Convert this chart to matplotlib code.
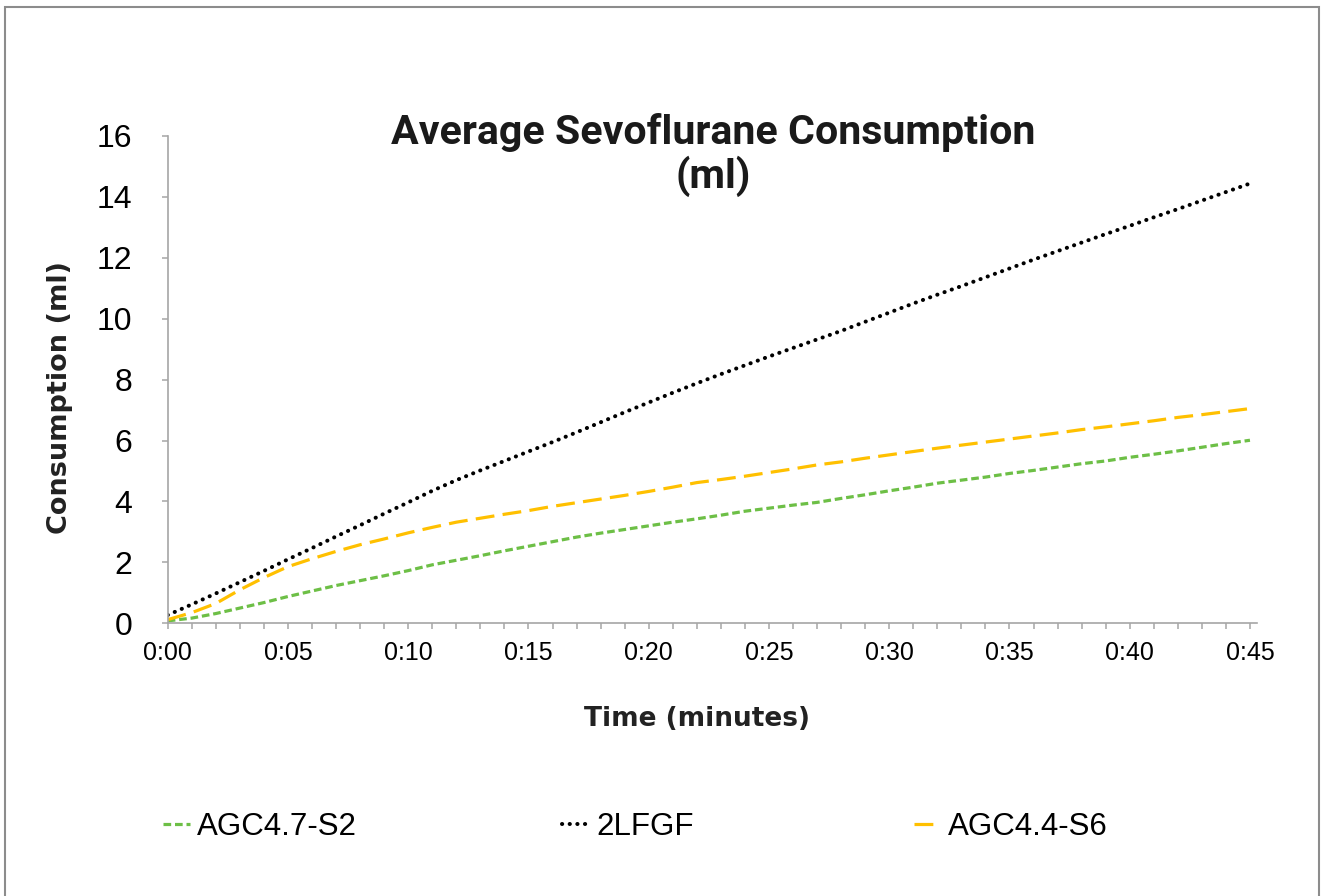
import matplotlib
matplotlib.use("Agg")
import matplotlib.pyplot as plt
from matplotlib import font_manager
from matplotlib.patches import Rectangle
from matplotlib.ticker import MultipleLocator, FixedLocator

# ---------------- data ----------------
minutes = list(range(0, 46))
x_tick_values = [0, 5, 10, 15, 20, 25, 30, 35, 40, 45]
x_tick_labels = ["0:00", "0:05", "0:10", "0:15", "0:20", "0:25", "0:30", "0:35", "0:40", "0:45"]
y_tick_values = [0, 2, 4, 6, 8, 10, 12, 14, 16]

agc47_s2 = [0.08, 0.17, 0.32, 0.50, 0.68, 0.88, 1.06, 1.24, 1.40, 1.56,
            1.73, 1.92, 2.07, 2.22, 2.38, 2.53, 2.68, 2.83, 2.96, 3.08,
            3.20, 3.32, 3.43, 3.55, 3.68, 3.78, 3.88, 3.97, 4.10, 4.22,
            4.35, 4.47, 4.60, 4.70, 4.80, 4.92, 5.02, 5.13, 5.24, 5.33,
            5.45, 5.55, 5.66, 5.78, 5.90, 6.01]
lfgf_2 = [0.27, 0.62, 0.98, 1.35, 1.72, 2.10, 2.47, 2.85, 3.22, 3.60,
          3.97, 4.35, 4.70, 5.02, 5.33, 5.64, 5.95, 6.27, 6.60, 6.93,
          7.25, 7.57, 7.88, 8.18, 8.47, 8.76, 9.04, 9.32, 9.60, 9.90,
          10.20, 10.50, 10.79, 11.07, 11.36, 11.65, 11.94, 12.22, 12.50, 12.78,
          13.05, 13.33, 13.60, 13.88, 14.16, 14.44]
agc44_s6 = [0.12, 0.35, 0.65, 1.10, 1.50, 1.86, 2.12, 2.36, 2.58, 2.77,
            2.97, 3.15, 3.32, 3.45, 3.58, 3.70, 3.84, 3.96, 4.08, 4.20,
            4.33, 4.47, 4.62, 4.72, 4.83, 4.95, 5.07, 5.20, 5.30, 5.42,
            5.53, 5.64, 5.75, 5.85, 5.95, 6.05, 6.15, 6.25, 6.36, 6.45,
            6.55, 6.65, 6.76, 6.85, 6.95, 7.05]

series_names = ["AGC4.7-S2", "2LFGF", "AGC4.4-S6"]
title_text = "Average Sevoflurane Consumption\n(ml)"
x_label = "Time (minutes)"
y_label = "Consumption (ml)"

# ---------------- fonts ----------------
names = {f.name for f in font_manager.fontManager.ttflist}
tick_font = "Liberation Sans" if "Liberation Sans" in names else "DejaVu Sans"
if "Liberation Sans Narrow" in names:
    title_font, title_size = "Liberation Sans Narrow", 31
else:
    title_font, title_size = "Roboto", 29.6
label_font = "DejaVu Sans"

# ---------------- figure ----------------
W, H = 1322, 896
fig = plt.figure(figsize=(W / 100, H / 100), dpi=100)
fig.patch.set_facecolor("white")

# outer border
fig.patches.append(Rectangle((5 / W, -0.02), (1319 - 5) / W, 1.02 - 7 / H,
                             transform=fig.transFigure, fill=False,
                             edgecolor="#8c8c8c", linewidth=1.5))

ax_left, ax_right = 167.7, 1256.7
ax_top, ax_bottom = 136.0, 623.3
ax = fig.add_axes([ax_left / W, 1 - ax_bottom / H, (ax_right - ax_left) / W,
                   (ax_bottom - ax_top) / H])

axis_gray = "#a6a6a6"
l1, = ax.plot(minutes, agc47_s2, color="#6dbf46", linewidth=2.3,
              linestyle=(0, (2.4, 1.2)), dash_capstyle="butt", label=series_names[0])
l2, = ax.plot(minutes, lfgf_2, color="black", linewidth=2.9,
              linestyle=(0, (0.05, 1.85)), dash_capstyle="round", label=series_names[1])
l3, = ax.plot(minutes, agc44_s6, color="#ffc000", linewidth=2.3,
              linestyle=(0, (5.9, 2.6)), dash_capstyle="butt", label=series_names[2])

ax.set_xlim(0, 45.28)
ax.set_ylim(0, 16)

for s in ["top", "right"]:
    ax.spines[s].set_visible(False)
for s in ["left", "bottom"]:
    ax.spines[s].set_color(axis_gray)
    ax.spines[s].set_linewidth(1.2)

ax.xaxis.set_major_locator(FixedLocator(x_tick_values))
ax.set_xticklabels(x_tick_labels)
ax.xaxis.set_minor_locator(MultipleLocator(1))
ax.yaxis.set_major_locator(FixedLocator(y_tick_values))

ax.tick_params(axis="x", which="both", direction="out", length=4, width=1.1,
               color=axis_gray, pad=9, labelsize=18, labelcolor="black")
ax.tick_params(axis="y", which="major", direction="out", length=4.3, width=1.1,
               color=axis_gray, pad=21, labelsize=23, labelcolor="black")
for lab in ax.get_xticklabels() + ax.get_yticklabels():
    lab.set_fontfamily(tick_font)

# labels
ax.set_xlabel(x_label, fontsize=19, fontweight="bold", family=label_font, color="#222222")
ax.xaxis.set_label_coords((696.5 - ax_left) / (ax_right - ax_left),
                          (ax_bottom - 706) / (ax_bottom - ax_top))
ax.set_ylabel(y_label, fontsize=19.5, fontweight="bold", family=label_font, color="#222222")
ax.yaxis.set_label_coords((73 - ax_left) / (ax_right - ax_left),
                          (ax_bottom - 397) / (ax_bottom - ax_top))

# title
fig.text(713 / W, 1 - 155 / H, title_text, ha="center", va="center",
         fontsize=title_size, fontweight="bold", family=title_font,
         color="#1a1a1a", linespacing=1.1)

# legends (three separate entries placed like the reference)
leg_y = 1 - 827 / H
for line, xpos in [(l1, 163), (l2, 562), (l3, 914)]:
    lg = fig.legend(handles=[line], loc="center left",
                    bbox_to_anchor=(xpos / W, leg_y), bbox_transform=fig.transFigure,
                    frameon=False, borderpad=0, borderaxespad=0,
                    handlelength=0.85, handletextpad=0.25,
                    prop={"family": tick_font, "size": 22.5})

fig.savefig("out.png", dpi=100, facecolor="white")
